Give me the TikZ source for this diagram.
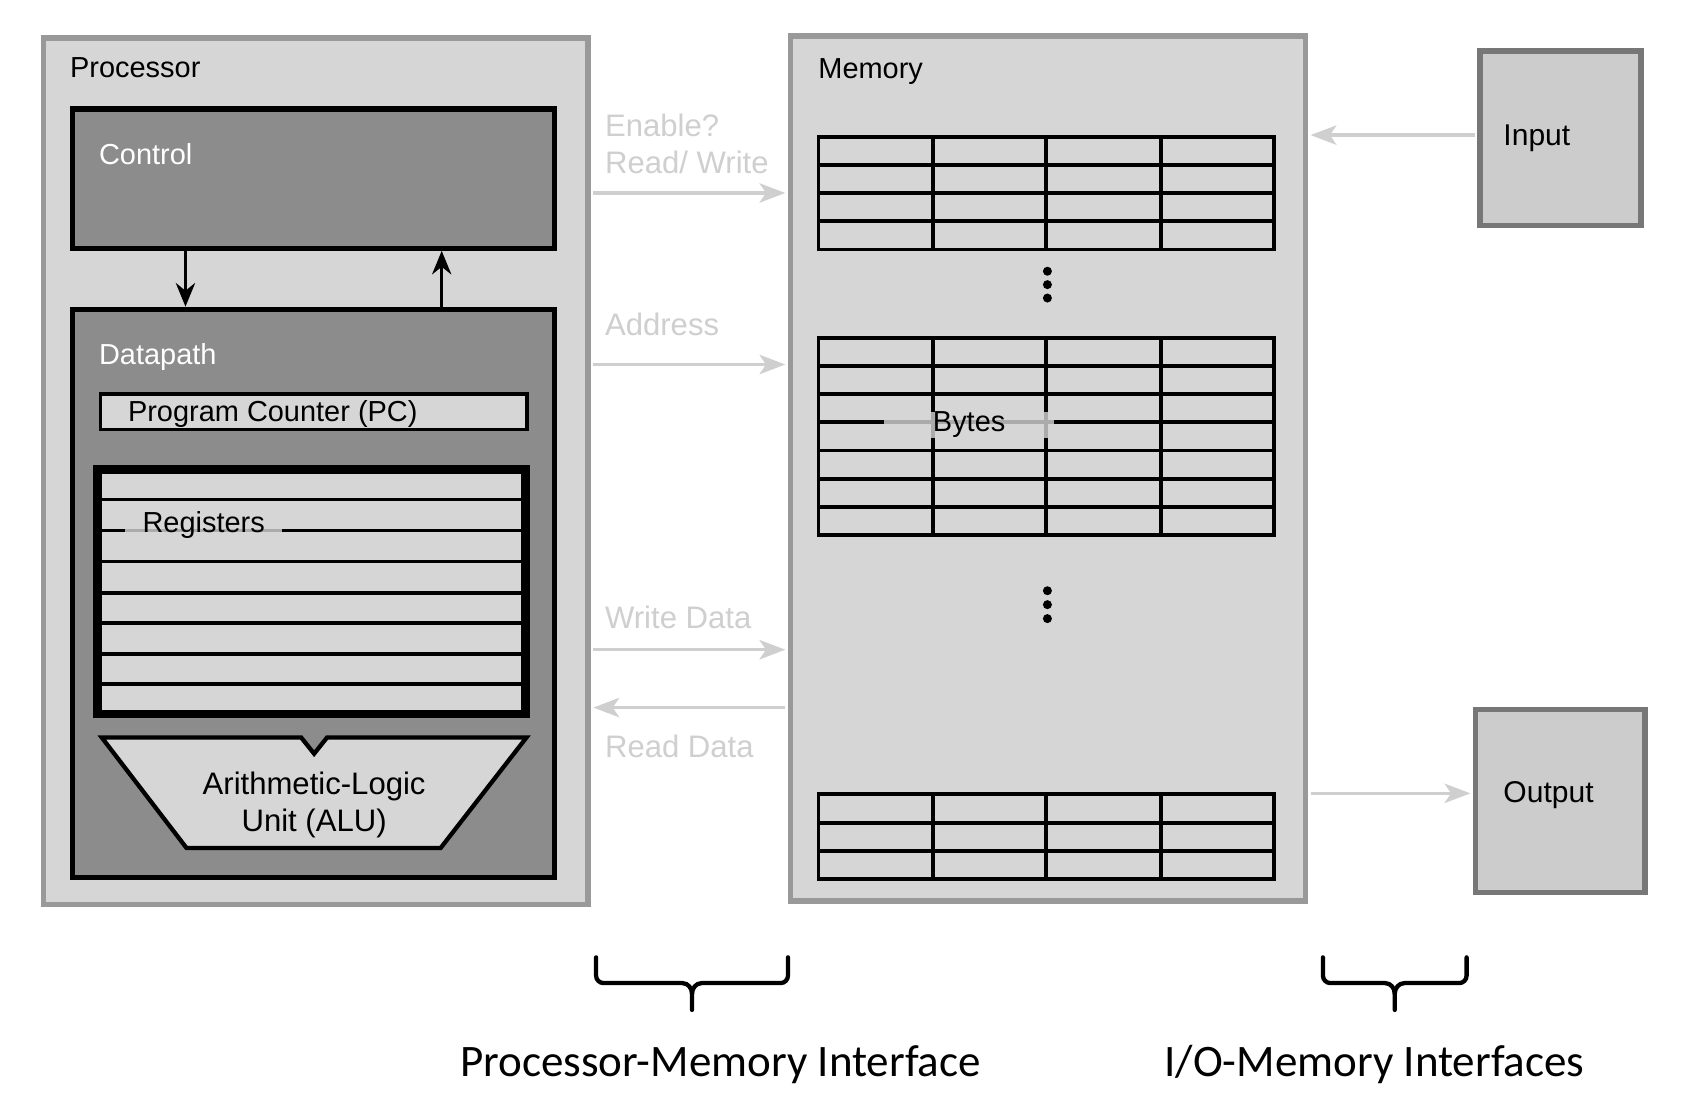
\documentclass[tikz,border=0pt]{standalone}
\usepackage{fontspec}
\setmainfont{Liberation Sans}
\newfontfamily\calibrifont{Carlito}
\usepackage{tikz}
\usetikzlibrary{arrows.meta,fit}
\definecolor{boxgray}{HTML}{D6D6D6}
\definecolor{edgegray}{HTML}{999999}
\definecolor{unitgray}{HTML}{8C8C8C}
\definecolor{iogray}{HTML}{CCCCCC}
\definecolor{ioedge}{HTML}{777777}
\definecolor{busgray}{HTML}{CFCFCF}
\tikzset{
  outerbox/.style={draw=edgegray, fill=boxgray, line width=2.5pt, inner sep=0pt},
  unitbox/.style={draw=black, fill=unitgray, line width=2.5pt, inner sep=0pt},
  pcbox/.style={draw=black, fill=boxgray, line width=1.5pt, inner sep=0pt},
  regbox/.style={draw=black, fill=boxgray, line width=4pt, inner sep=0pt},
  iobox/.style={draw=ioedge, fill=iogray, line width=2.5pt, inner sep=0pt},
  lbl/.style={inner sep=0pt, font=\fontsize{13.5}{16}\selectfont},
  whitelbl/.style={lbl, text=white},
  buslbl/.style={inner sep=0pt, text=busgray, font=\fontsize{14.5}{16}\selectfont},
  iolbl/.style={inner sep=0pt, font=\fontsize{14}{16}\selectfont},
  alulbl/.style={inner sep=0pt, font=\fontsize{14.5}{16}\selectfont},
  ifacelbl/.style={inner sep=0pt, font=\calibrifont\fontsize{21}{24}\selectfont},
  halo/.style={fill=boxgray, fill opacity=0.8, text opacity=1},
  bus/.style={-{Stealth[length=12pt,width=9pt,inset=3pt]}, draw=busgray,
    line width=1.5pt, shorten <=1.25pt, shorten >=1.25pt},
  ctl/.style={-{Stealth[length=11pt,width=9pt]}, line width=1.3pt},
  regline/.style={line width=1.6pt},
  gridline/.style={line width=1.8pt},
  alu/.style={draw=black, fill=boxgray, line width=2pt},
  brace/.style={line width=2pt, line cap=round}
}
\newcommand{\bytegrid}[2]{%
  \pgfmathsetmacro{\gridbot}{#1+#2*\rowh}
  \draw[gridline] (\gridl,#1) rectangle (\gridr,\gridbot);
  \foreach \row in {1,...,#2}{
    \draw[gridline] (\gridl,{#1+\row*\rowh}) -- (\gridr,{#1+\row*\rowh});
  }
  \foreach \col in {870,976,1083}{
    \draw[gridline] (\col,#1) -- (\col,\gridbot);
  }%
}
\newcommand{\ifbrace}[2]{%
  \pgfmathsetmacro{\bmid}{(#1+#2)/2}
  \draw[brace] (#1,893) -- (#1,910) to[out=-90,in=180] ({#1+7},917)
    -- ({\bmid-9},917) to[out=0,in=90] (\bmid,927) -- (\bmid,942);
  \draw[brace] (#2,893) -- (#2,910) to[out=-90,in=0] ({#2-7},917)
    -- ({\bmid+9},917) to[out=180,in=90] (\bmid,927);%
}
\begin{document}
\begin{tikzpicture}[x=0.5pt, y=-0.5pt]

  % canvas
  \path[use as bounding box, fill=white] (0,0) rectangle (1568,1034);

  % memory grid geometry
  \def\gridl{763.5}
  \def\gridr{1188}
  \def\rowh{26.3}

  % processor
  \node[outerbox, fit={(40.5,35.5) (548.5,843.5)}] (proc) {};
  \node[lbl, anchor=base west] (proclbl) at (65,72) {Processor};

  \node[unitbox, fit={(67.5,101.5) (517.5,231.5)}] (ctrl) {};
  \node[whitelbl, anchor=base west] (ctrllbl) at (92,153) {Control};

  \node[unitbox, fit={(67.5,288.5) (517.5,818.5)}] (dp) {};
  \node[whitelbl, anchor=base west] (dplbl) at (92,340) {Datapath};

  \draw[ctl] (ctrl.south -| 173,0) -- (dp.north -| 173,0);
  \draw[ctl] (dp.north -| 412,0) -- (ctrl.south -| 412,0);

  \node[pcbox, fit={(93.5,367.5) (491.5,400.5)}] (pc) {};
  \node[lbl, anchor=base west] (pclbl) at (119,393.5) {Program Counter (PC)};

  % registers
  \node[regbox, fit={(91,438) (490,666)}] (regs) {};
  \foreach \y in {466,495,524,553,581,610,638}{
    \draw[regline] (regs.west |- 0,\y) -- (regs.east |- 0,\y);
  }
  \node[lbl, halo, minimum width=73pt] (reglbl) at (190,490) {Registers};

  % alu
  \draw[alu] (95,688) -- (281,688) -- (293,703) -- (305,688) -- (491,688)
    -- (411,791) -- (174,791) -- cycle;
  \node[alulbl, anchor=base] (alulbla) at (293,741) {Arithmetic-Logic};
  \node[alulbl, anchor=base] (alulblb) at (293,776) {Unit (ALU)};

  % memory
  \node[outerbox, fit={(737.5,33.5) (1217.5,840.5)}] (mem) {};
  \node[lbl, anchor=base west] (memlbl) at (763,73) {Memory};
  \bytegrid{127.5}{4}
  \bytegrid{315}{7}
  \bytegrid{741}{3}
  \foreach \y in {253,265.5,278}{
    \fill (977,\y) circle (2.1pt);
  }
  \foreach \y in {551,564,577}{
    \fill (977,\y) circle (2.1pt);
  }
  \node[lbl, halo, minimum width=79pt] (bytelbl) at (904,396) {Bytes};

  % input / output
  \node[iobox, fit={(1380.5,47.5) (1530.5,210.5)}] (inp) {};
  \node[iolbl, anchor=base west] (inplbl) at (1402,136) {Input};
  \node[iobox, fit={(1376.5,661.5) (1534.5,832.5)}] (outp) {};
  \node[iolbl, anchor=base west] (outplbl) at (1402,749) {Output};

  % buses
  \draw[bus] (proc.east |- 0,180) -- (mem.west |- 0,180);
  \draw[bus] (proc.east |- 0,340) -- (mem.west |- 0,340);
  \draw[bus] (proc.east |- 0,606) -- (mem.west |- 0,606);
  \draw[bus] (mem.west |- 0,660) -- (proc.east |- 0,660);
  \draw[bus] (inp.west |- 0,126) -- (mem.east |- 0,126);
  \draw[bus] (mem.east |- 0,740) -- (outp.west |- 0,740);

  \node[buslbl, anchor=base west] (enlbl) at (564,127) {Enable?};
  \node[buslbl, anchor=base west] (rwlbl) at (564,162) {Read/ Write};
  \node[buslbl, anchor=base west] (addrlbl) at (564,313) {Address};
  \node[buslbl, anchor=base west] (wdlbl) at (564,586) {Write Data};
  \node[buslbl, anchor=base west] (rdlbl) at (564,707) {Read Data};

  % interfaces
  \ifbrace{556}{735}
  \ifbrace{1234}{1368}
  \node[ifacelbl, anchor=base] (pmlbl) at (672,1004) {Processor-Memory Interface};
  \node[ifacelbl, anchor=base] (iomlbl) at (1282,1004) {I/O-Memory Interfaces};

\end{tikzpicture}
\end{document}
